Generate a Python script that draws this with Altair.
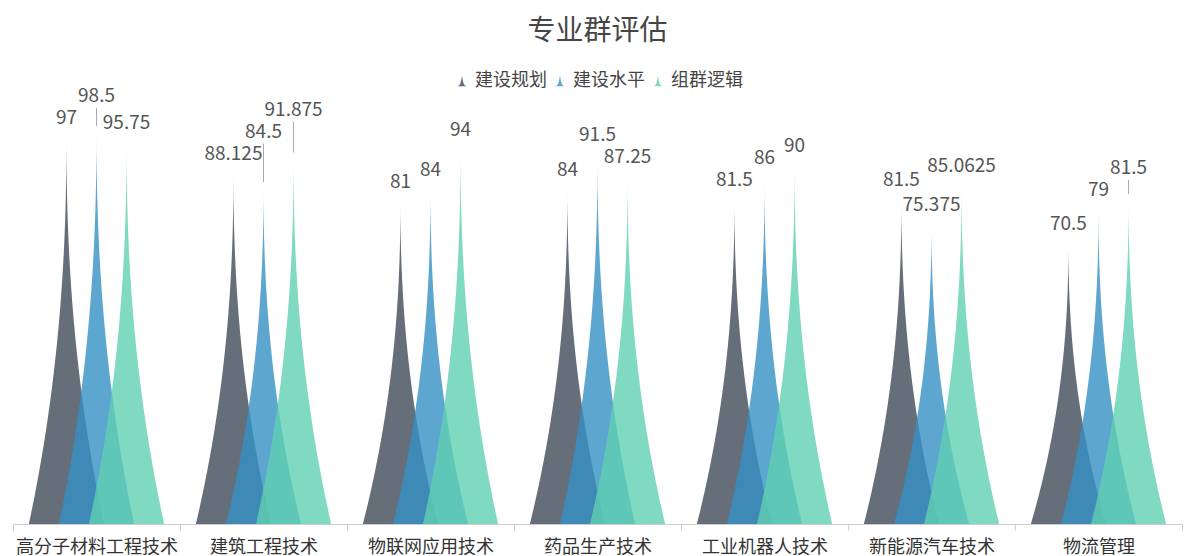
import altair as alt
import pandas as pd

categories = ["高分子材料工程技术", "建筑工程技术", "物联网应用技术", "药品生产技术",
              "工业机器人技术", "新能源汽车技术", "物流管理"]
series = ["建设规划", "建设水平", "组群逻辑"]
plan = [97, 88.125, 81, 84, 81.5, 81.5, 70.5]
level = [98.5, 84.5, 84, 91.5, 86, 75.375, 79]
logic = [95.75, 91.875, 94, 87.25, 90, 85.0625, 81.5]
colors = ["#3f4a58", "#3590c4", "#60cfb2"]

rows = []
for si, (name, vals) in enumerate(zip(series, [plan, level, logic])):
    for ci, (cat, v) in enumerate(zip(categories, vals)):
        rows.append({"idx": len(rows), "cat": cat, "ci": ci, "series": name, "si": si, "value": v})
df = pd.DataFrame(rows)

STEPS = 61          # samples per spike edge (glyph outline resolution)
PER = 2 * STEPS     # both edges of one spike
FONT = "Noto Sans CJK SC"
xscale = alt.Scale(domain=[0, len(categories)], nice=False, zero=False)
yscale = alt.Scale(domain=[0, 100], nice=False)
color_enc = alt.Color(
    "series:N",
    scale=alt.Scale(domain=series, range=colors),
    legend=alt.Legend(
        title=None, orient="none", direction="horizontal", legendX=440, legendY=-52,
        symbolType="M-1,1L1,1C0.2,1 0.2,0 0,-1C-0.2,0 -0.2,1 -1,1Z",
        symbolSize=110, symbolOpacity=0.8, symbolStrokeWidth=0,
        labelFont=FONT, labelFontSize=18, labelColor="#444444",
        columnPadding=4,
    ),
)

# spike glyph outline: width tapers as (1 - h)^2.2 from the base to the tip
spike = alt.Chart(alt.sequence(0, len(rows) * PER, as_="n")).transform_calculate(
    idx=f"floor(datum.n / {PER})",
    r=f"datum.n % {PER}",
).transform_calculate(
    side=f"datum.r < {STEPS} ? -1 : 1",
    h=f"(datum.r % {STEPS}) / {STEPS - 1}",
).transform_lookup(
    lookup="idx",
    from_=alt.LookupData(df, key="idx", fields=["cat", "ci", "series", "si", "value"]),
).transform_calculate(
    center="datum.ci + 0.5 + (datum.si - 1) * 0.18",
    w="pow(1 - datum.h, 2.2)",
).transform_calculate(
    xx="datum.center + datum.side * 0.225 * datum.w",
    yy="datum.value * datum.h",
)

spikes = []
for name in series:
    spikes.append(
        spike.transform_filter(alt.datum.series == name)
        .mark_area(fillOpacity=0.8, interpolate="linear")
        .encode(
            x=alt.X("xx:Q", scale=xscale, axis=None),
            y=alt.Y("yy:Q", scale=yscale, axis=None, stack=None),
            y2=alt.datum(0),
            color=color_enc,
            detail="cat:N",
        )
    )

# value labels: colliding neighbour labels are separated by lifting one of them
H = 5.5      # label height in value units
GAP = 30     # pixel distance between neighbouring spikes


def coll(a, b, wa, wb):
    return f"(abs({a} - {b}) < {H} && ({wa} + {wb}) / 2 > {GAP})"


lab = alt.Chart(df).transform_calculate(
    center="datum.ci + 0.5 + (datum.si - 1) * 0.18",
    tw="length(toString(datum.value)) * 10.5",
).transform_window(
    window=[
        alt.WindowFieldDef(**{"op": "lag", "field": "value", "param": 1, "as": "vp1"}),
        alt.WindowFieldDef(**{"op": "lag", "field": "value", "param": 2, "as": "vp2"}),
        alt.WindowFieldDef(**{"op": "lag", "field": "tw", "param": 1, "as": "twp1"}),
        alt.WindowFieldDef(**{"op": "lag", "field": "tw", "param": 2, "as": "twp2"}),
        alt.WindowFieldDef(**{"op": "lead", "field": "value", "param": 1, "as": "vn1"}),
        alt.WindowFieldDef(**{"op": "lead", "field": "tw", "param": 1, "as": "twn1"}),
    ],
    groupby=["ci"],
    sort=[alt.SortField("si")],
    frame=[None, None],
).transform_calculate(
    A=(f"datum.si == 1 ? ({coll('datum.value', 'datum.vp1', 'datum.tw', 'datum.twp1')} ? max(datum.value, datum.vp1 + {H}) : datum.value)"
       f" : (datum.si == 2 ? ({coll('datum.vp1', 'datum.vp2', 'datum.twp1', 'datum.twp2')} ? max(datum.vp1, datum.vp2 + {H}) : datum.vp1) : datum.value)"),
).transform_calculate(
    L=(f"datum.si == 0 ? datum.value : (datum.si == 1 ? "
       f"((datum.A == datum.value && datum.vn1 != null && {coll('datum.A', 'datum.vn1', 'datum.tw', 'datum.twn1')} && datum.vn1 < datum.A) ? datum.vn1 + {H} : datum.A)"
       f" : ({coll('datum.value', 'datum.A', 'datum.tw', 'datum.twp1')} ? ((datum.A > datum.vp1 || datum.value >= datum.A) ? max(datum.value, datum.A + {H}) : datum.value) : datum.value))"),
).transform_calculate(
    ly1="datum.value + 1",
    ly2="datum.L + 1.5",
)

labels = lab.mark_text(baseline="bottom", dy=-8, font=FONT, fontSize=19, color="#555555").encode(
    x=alt.X("center:Q", scale=xscale, axis=None),
    y=alt.Y("L:Q", scale=yscale, axis=None),
    text=alt.Text("value:Q"),
)

leaders = lab.transform_filter("datum.L - datum.value >= 2").mark_rule(
    color="#aaaaaa", strokeWidth=1
).encode(
    x=alt.X("center:Q", scale=xscale, axis=None),
    y=alt.Y("ly1:Q", scale=yscale, axis=None),
    y2="ly2:Q",
)

inner = alt.layer(*spikes, leaders, labels)

axis_layer = alt.Chart(df).mark_rule(opacity=0).encode(
    x=alt.X(
        "cat:N", sort=categories, title=None,
        scale=alt.Scale(paddingInner=0, paddingOuter=0),
        axis=alt.Axis(
            orient="bottom", tickBand="extent", labelAngle=0, labelFont=FONT,
            labelFontSize=18, labelColor="#333333", labelPadding=8,
            domainColor="#cccccc", tickColor="#cccccc", tickSize=6,
        ),
    )
)

chart = alt.layer(inner, axis_layer).resolve_scale(x="independent").properties(
    width=1169, height=400,
    title=alt.TitleParams("专业群评估", font=FONT, fontSize=28, fontWeight="normal",
                          color="#464646", anchor="middle", offset=26),
    padding={"left": 4, "right": 4, "top": 10, "bottom": 4},
).configure_view(stroke=None)

chart.save("out.html", embed_options={"renderer": "svg", "actions": False})
